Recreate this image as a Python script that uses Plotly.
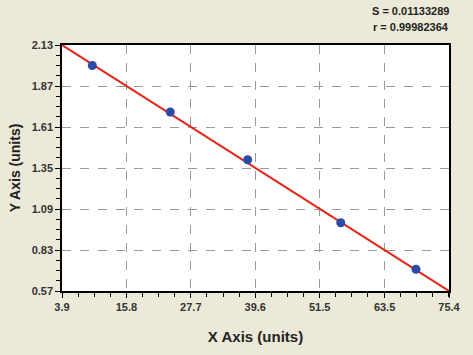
import plotly.graph_objects as go

# Data
x_points = [9.5, 23.9, 38.2, 55.4, 69.3]
y_points = [2.00, 1.705, 1.402, 1.003, 0.708]
fit_x = [3.9, 75.4]
fit_y = [2.13, 0.57]
x_ticks = [3.9, 15.8, 27.7, 39.6, 51.5, 63.5, 75.4]
x_tick_labels = ["3.9", "15.8", "27.7", "39.6", "51.5", "63.5", "75.4"]
y_ticks = [0.57, 0.83, 1.09, 1.35, 1.61, 1.87, 2.13]
y_tick_labels = ["0.57", "0.83", "1.09", "1.35", "1.61", "1.87", "2.13"]
stats_lines = ["S = 0.01133289", "r = 0.99982364"]

FONT = "Liberation Sans, Arial"

fig = go.Figure()
fig.add_trace(go.Scatter(x=fit_x, y=fit_y, mode="lines",
                         line=dict(color="#E3261C", width=2), showlegend=False))
fig.add_trace(go.Scatter(x=x_points, y=y_points, mode="markers",
                         marker=dict(color="#2B4BA6", size=9,
                                     line=dict(width=0)), showlegend=False))

axis_common = dict(
    showline=True, linecolor="black", linewidth=1.5, mirror=True,
    ticks="outside", ticklen=5, tickwidth=1, tickcolor="black",
    showgrid=True, gridcolor="#9a9a9a", griddash="dash", gridwidth=1,
    zeroline=False,
    tickfont=dict(family=FONT, size=11, color="#333333"),
)

fig.update_xaxes(range=[3.9, 75.4], tickvals=x_ticks,
                 ticktext=["<b>" + t + "</b>" for t in x_tick_labels],
                 minor=dict(dtick=2.975, tick0=3.9, ticks="outside", ticklen=4,
                            tickcolor="black", showgrid=False),
                 title=dict(text="<b>X Axis (units)</b>",
                            font=dict(family=FONT, size=15, color="#222222"),
                            standoff=20),
                 **axis_common)
fig.update_yaxes(range=[0.57, 2.13], tickvals=y_ticks,
                 ticktext=["<b>" + t + "</b>" for t in y_tick_labels],
                 minor=dict(dtick=0.065, tick0=0.57, ticks="outside", ticklen=4,
                            tickcolor="black", showgrid=False),
                 title=dict(text="<b>Y Axis (units)</b>",
                            font=dict(family=FONT, size=14, color="#222222"),
                            standoff=8),
                 **axis_common)

for i, line in enumerate(stats_lines):
    fig.add_annotation(text="<b>" + line + "</b>", xref="paper", yref="paper",
                       x=1.0, y=1.0, xanchor="right", yanchor="bottom",
                       yshift=26 - 16 * i, xshift=2,
                       align="right", showarrow=False,
                       font=dict(family=FONT, size=11, color="#222222"))

fig.update_layout(
    width=473, height=355,
    margin=dict(l=62, r=18, t=45, b=61),
    paper_bgcolor="#ECE9D8", plot_bgcolor="white",
    font=dict(family=FONT),
)
fig.write_html("out.html")
